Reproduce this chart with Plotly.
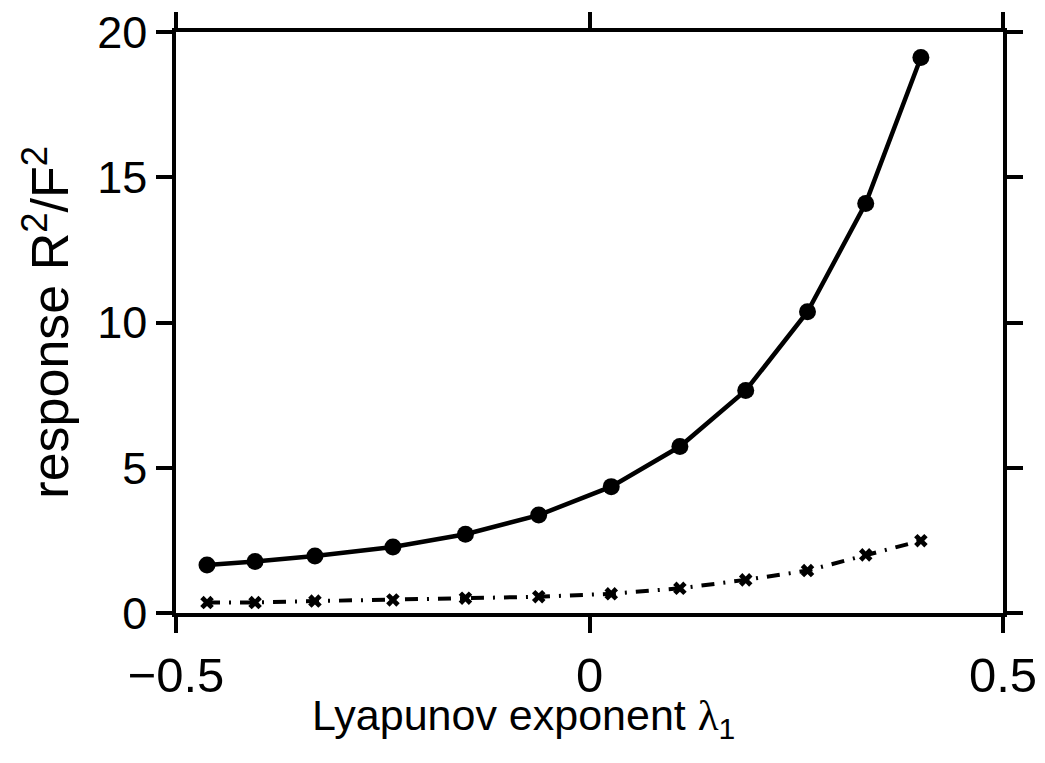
import plotly.graph_objects as go

# Lyapunov exponent lambda_1 (x) for each run
lyapunov = [-0.4625, -0.4044, -0.332, -0.2377, -0.150, -0.0614,
            0.0263, 0.1093, 0.1889, 0.2636, 0.334, 0.4007]

# response R^2/F^2, solid curve with filled circles
response_full = [1.65, 1.77, 1.96, 2.27, 2.71, 3.37,
                 4.35, 5.73, 7.66, 10.37, 14.1, 19.12]

# response R^2/F^2, dash-dot curve with crosses
response_cross = [0.36, 0.36, 0.41, 0.45, 0.51, 0.56,
                  0.66, 0.85, 1.14, 1.46, 2.0, 2.49]

x_ticks = [-0.5, 0, 0.5]
x_ticklabels = ['\u22120.5', '0', '0.5']
y_ticks = [0, 5, 10, 15, 20]

fig = go.Figure()

fig.add_trace(go.Scatter(
    x=lyapunov,
    y=response_full,
    mode='lines+markers',
    line=dict(color='black', width=4.5),
    marker=dict(symbol='circle', size=17, color='black'),
    showlegend=False
))

fig.add_trace(go.Scatter(
    x=lyapunov,
    y=response_cross,
    mode='lines+markers',
    line=dict(color='black', width=4, dash='13px,9px,2px,9px'),
    marker=dict(symbol='x', size=12, color='black'),
    showlegend=False
))

axis_common = dict(
    showline=True,
    linecolor='black',
    linewidth=3.5,
    mirror='ticks',
    ticks='outside',
    ticklen=16,
    tickwidth=3.5,
    tickcolor='black',
    showgrid=False,
    zeroline=False,
    automargin=False,
    ticklabeloverflow='allow',
)

fig.update_xaxes(
    range=[-0.5, 0.5],
    tickvals=x_ticks,
    ticktext=x_ticklabels,
    tickfont=dict(family='Liberation Sans, Arial', size=49, color='black'),
    **axis_common
)
fig.update_yaxes(
    range=[0, 20],
    tickvals=y_ticks,
    tickfont=dict(family='Liberation Sans, Arial', size=45, color='black'),
    **axis_common
)

fig.add_annotation(
    text='Lyapunov exponent <span style="font-family:Liberation Serif">\u03bb</span><sub>1</sub>',
    xref='paper', yref='paper',
    x=0.42, y=-0.13,
    xanchor='center', yanchor='top',
    showarrow=False,
    font=dict(family='Liberation Sans, Arial', size=43, color='black')
)
fig.add_annotation(
    text='response R<sup>2</sup>/F<sup>2</sup>',
    xref='paper', yref='paper',
    x=-0.157, y=0.5,
    xanchor='center', yanchor='middle',
    textangle=-90,
    showarrow=False,
    font=dict(family='Liberation Sans, Arial', size=52, color='black')
)

# page body has an 8px margin, so the figure is drawn 8px in from the corner
fig.update_layout(
    width=1037,
    height=755,
    margin=dict(l=168, r=42, t=24, b=150),
    paper_bgcolor='white',
    plot_bgcolor='white',
)

fig.write_html("out.html")
